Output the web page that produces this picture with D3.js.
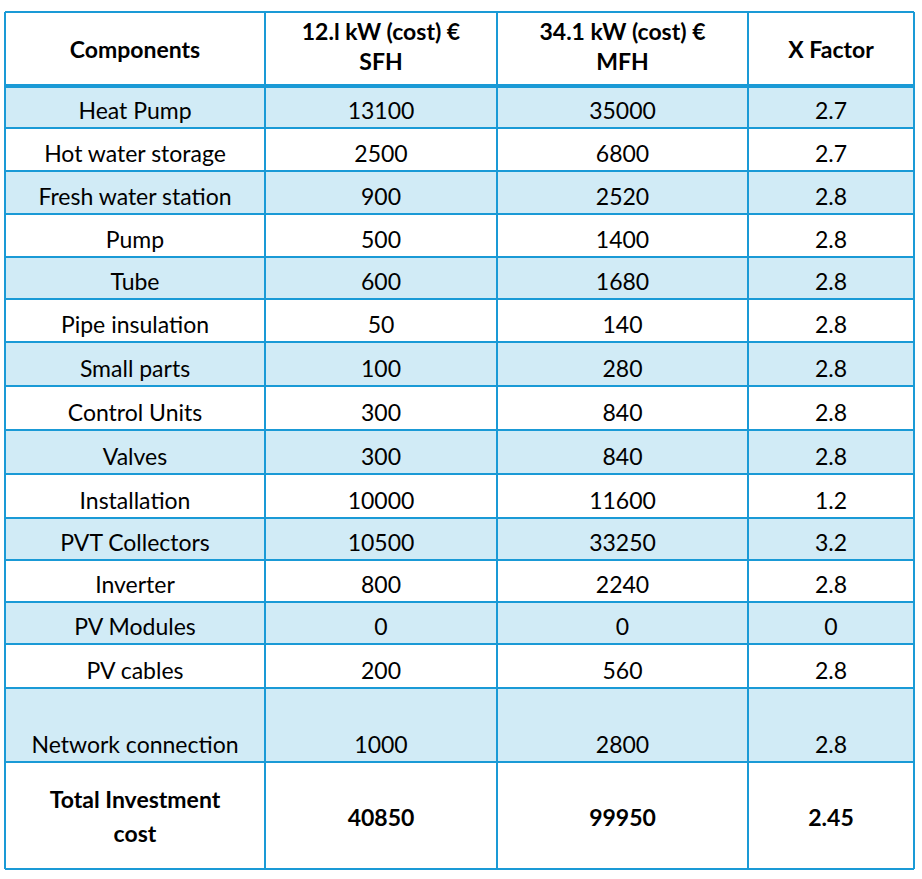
<!DOCTYPE html>
<html><head><meta charset="utf-8">
<script src="https://cdn.jsdelivr.net/npm/d3@7"></script>
<style>body{margin:0;background:#fff}</style>
</head><body>
<script>
const headers = [["Components"], ["12.l kW (cost) €", "SFH"], ["34.1 kW (cost) €", "MFH"], ["X Factor"]];
const components = ["Heat Pump","Hot water storage","Fresh water station","Pump","Tube","Pipe insulation","Small parts","Control Units","Valves","Installation","PVT Collectors","Inverter","PV Modules","PV cables","Network connection"];
const costSFH = [13100,2500,900,500,600,50,100,300,300,10000,10500,800,0,200,1000];
const costMFH = [35000,6800,2520,1400,1680,140,280,840,840,11600,33250,2240,0,560,2800];
const xFactor = ["2.7","2.7","2.8","2.8","2.8","2.8","2.8","2.8","2.8","1.2","3.2","2.8","0","2.8","2.8"];
const total = [["Total Investment", "cost"], ["40850"], ["99950"], ["2.45"]];

const colEdges = [5, 265, 497, 748, 914];
const rowEdges = [12, 86, 128, 171, 214, 257, 299, 342, 386, 430, 474, 518, 560, 602, 644, 688, 762, 869];
const blue = "#1a9ad6", fill = "#d1ebf6";
const font = "Lato, 'Open Sans', sans-serif";

const svg = d3.select("body").append("svg").attr("width", 922).attr("height", 879);

const rows = components.map((c, i) => [c, String(costSFH[i]), String(costMFH[i]), xFactor[i]]);

// row backgrounds
svg.selectAll("rect.bg").data(rows).enter().append("rect")
  .attr("x", colEdges[0]).attr("width", colEdges[4] - colEdges[0])
  .attr("y", (d, i) => rowEdges[i + 1]).attr("height", (d, i) => rowEdges[i + 2] - rowEdges[i + 1])
  .attr("fill", (d, i) => i % 2 === 0 ? fill : "#fff");

// grid lines
svg.selectAll("line.h").data(rowEdges).enter().append("line")
  .attr("x1", colEdges[0]).attr("x2", colEdges[4])
  .attr("y1", d => d).attr("y2", d => d)
  .attr("stroke", blue).attr("stroke-width", (d, i) => i === 1 ? 4 : 2);
svg.selectAll("line.v").data(colEdges).enter().append("line")
  .attr("y1", rowEdges[0]).attr("y2", rowEdges[rowEdges.length - 1])
  .attr("x1", d => d).attr("x2", d => d)
  .attr("stroke", blue).attr("stroke-width", 2);

const cx = j => (colEdges[j] + colEdges[j + 1]) / 2;

// header
headers.forEach((h, j) => {
  const t = svg.append("text").attr("x", cx(j)).attr("text-anchor", "middle")
    .attr("font-family", font).attr("font-size", 23).attr("font-weight", "bold");
  const y0 = h.length === 1 ? 58 : 40;
  h.forEach((s, k) => t.append("tspan").attr("x", cx(j)).attr("y", y0 + k * 30).text(s));
});

// body
rows.forEach((r, i) => {
  const yb = rowEdges[i + 2] - 9;
  svg.selectAll(null).data(r).enter().append("text")
    .attr("x", (d, j) => cx(j)).attr("y", yb).attr("text-anchor", "middle")
    .attr("font-family", font).attr("font-size", 23).text(d => d);
});

// total row
total.forEach((h, j) => {
  const t = svg.append("text").attr("x", cx(j)).attr("text-anchor", "middle")
    .attr("font-family", font).attr("font-size", 23).attr("font-weight", "bold");
  const y0 = h.length === 1 ? 826 : 808;
  h.forEach((s, k) => t.append("tspan").attr("x", cx(j)).attr("y", y0 + k * 34).text(s));
});
</script>
</body></html>
